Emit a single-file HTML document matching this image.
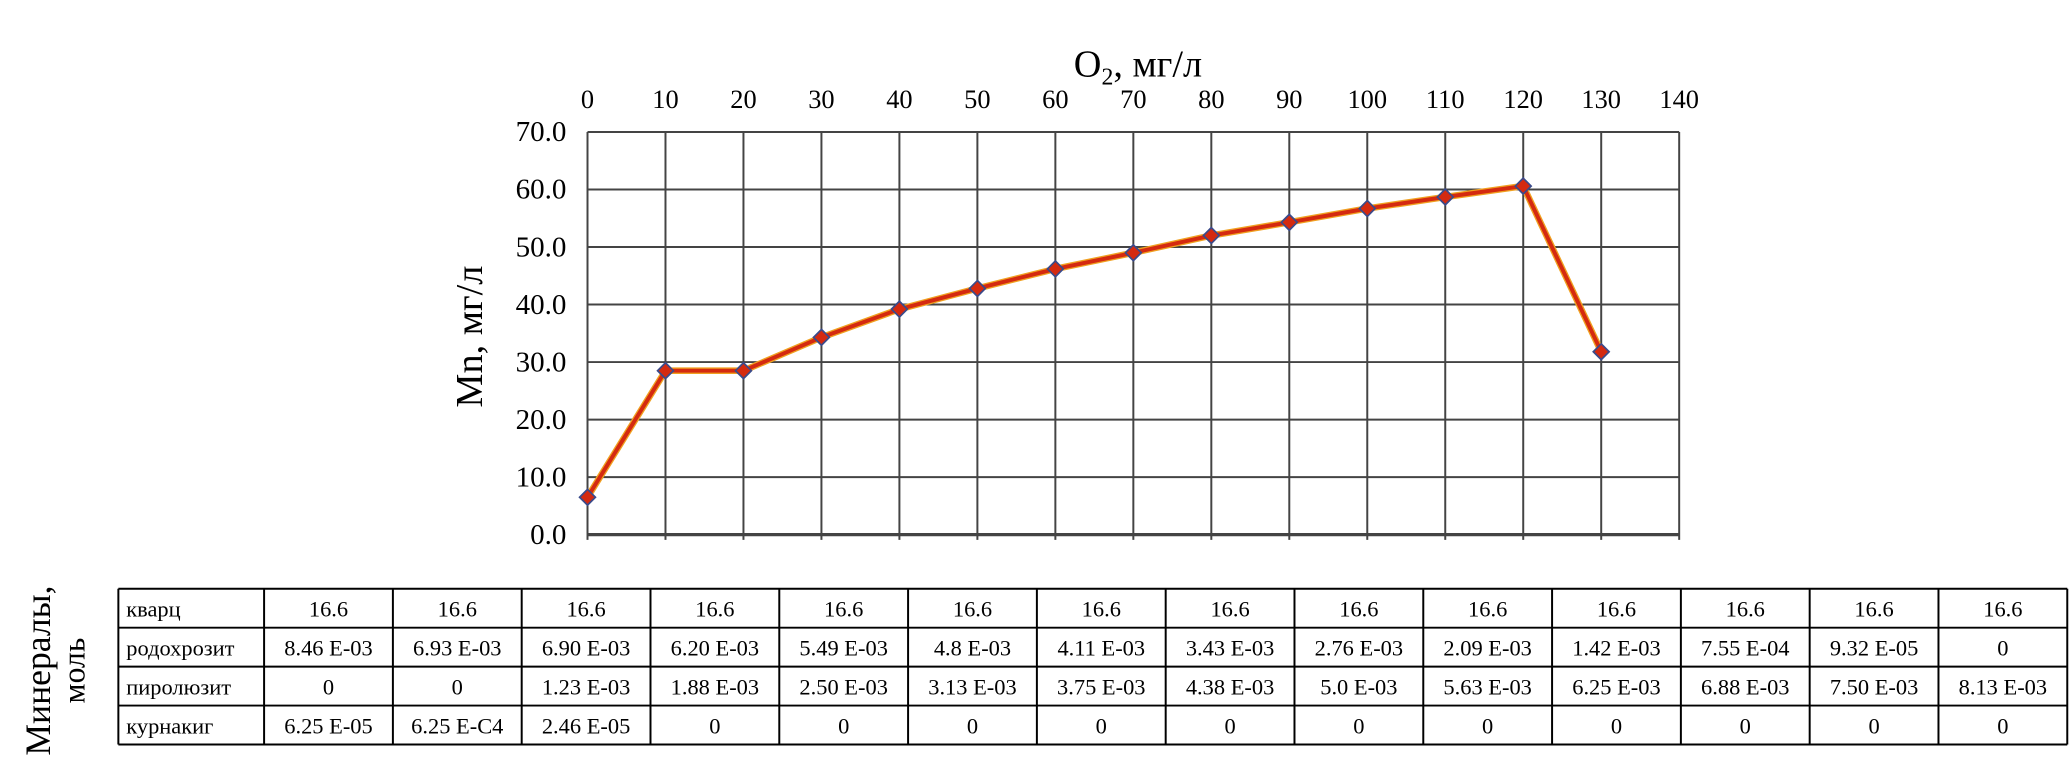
<!DOCTYPE html>
<html><head><meta charset="utf-8"><style>
html,body{margin:0;padding:0;background:#fff;}
svg{display:block;font-family:"Liberation Serif","Noto Serif CJK SC",serif;}
</style></head><body>
<svg width="2070" height="768" viewBox="0 0 1568 581.8">
<g id="grid"></g>
<g id="xt"></g>
<g id="yt"></g>
<text x="862" y="58" font-size="29" text-anchor="middle">O<tspan font-size="18" dy="6">2</tspan><tspan dy="-6">, мг/л</tspan></text>
<text transform="translate(365,255) rotate(-90)" font-size="29" text-anchor="middle">Mn, мг/л</text>
<g id="series"></g>
<text transform="translate(38,508) rotate(-90)" font-size="27" text-anchor="middle">Минералы,</text>
<text transform="translate(64,508) rotate(-90)" font-size="24" text-anchor="middle">моль</text>
<g id="tbl"></g>
</svg>
<script>
const xCats=[0,10,20,30,40,50,60,70,80,90,100,110,120,130];
const mnValues=[6.5,28.5,28.5,34.3,39.2,42.8,46.2,49.0,52.0,54.3,56.7,58.7,60.6,31.8];
const xTicks=[0,10,20,30,40,50,60,70,80,90,100,110,120,130,140];
const yTicks=["0.0","10.0","20.0","30.0","40.0","50.0","60.0","70.0"];
const rowNames=["кварц","родохрозит","пиролюзит","курнакиг"];
const rowKvarc=["16.6","16.6","16.6","16.6","16.6","16.6","16.6","16.6","16.6","16.6","16.6","16.6","16.6","16.6"];
const rowRodo=["8.46 E-03","6.93 E-03","6.90 E-03","6.20 E-03","5.49 E-03","4.8 E-03","4.11 E-03","3.43 E-03","2.76 E-03","2.09 E-03","1.42 E-03","7.55 E-04","9.32 E-05","0"];
const rowPiro=["0","0","1.23 E-03","1.88 E-03","2.50 E-03","3.13 E-03","3.75 E-03","4.38 E-03","5.0 E-03","5.63 E-03","6.25 E-03","6.88 E-03","7.50 E-03","8.13 E-03"];
const rowKurn=["6.25 E-05","6.25 E-C4","2.46 E-05","0","0","0","0","0","0","0","0","0","0","0"];
const NS="http://www.w3.org/2000/svg";
const L=445,R=1272,T=100,B=405;
const sx=v=>L+(v-0)/(140-0)*(R-L);
const sy=v=>B-(v-0)/(70-0)*(B-T);
function mk(tag,attrs,parent,txt){const e=document.createElementNS(NS,tag);for(const k in attrs)e.setAttribute(k,attrs[k]);if(txt!==undefined)e.textContent=txt;parent.appendChild(e);return e;}
const grid=document.getElementById('grid');
xTicks.forEach(v=>{const e=mk('line',{x1:sx(v),x2:sx(v),y1:T,y2:B+4,stroke:'#444','stroke-width':1.5},grid);

});
yTicks.forEach(t=>{const v=parseFloat(t);const e=mk('line',{x1:L,x2:R,y1:sy(v),y2:sy(v),stroke:'#444','stroke-width':v===0?2.4:1.5},grid);

});
const xt=document.getElementById('xt');
xTicks.forEach(v=>{const e=mk('text',{x:sx(v),y:82,'font-size':20,'text-anchor':'middle'},xt,String(v));

});
const yt=document.getElementById('yt');
yTicks.forEach(t=>{const e=mk('text',{x:429,y:sy(parseFloat(t))+7,'font-size':22,'text-anchor':'end'},yt,t);

});
const s=document.getElementById('series');
const pts=xCats.map((c,i)=>sx(c)+','+sy(mnValues[i])).join(' ');
const h=mk('polyline',{points:pts,fill:'none',stroke:'#f0a020','stroke-width':5,'stroke-linejoin':'round'},s);


const ln=mk('polyline',{points:pts,fill:'none',stroke:'#d42a10','stroke-width':3,'stroke-linejoin':'round'},s);


xCats.forEach((c,i)=>{const x=sx(c),y=sy(mnValues[i]),r=6;
const p=mk('polygon',{points:`${x},${y-r} ${x+r},${y} ${x},${y+r} ${x-r},${y}`,fill:'#d42a10',stroke:'#3a4a8a','stroke-width':1.3},s);

});
const tb=document.getElementById('tbl');
const TL=89.6,TR=1566,TT=446,RH=29.5,LC=200;
const rows=[rowKvarc,rowRodo,rowPiro,rowKurn];
const CW=(TR-LC)/14;
for(let r=0;r<=4;r++){const e=mk('line',{x1:TL,x2:TR,y1:TT+r*RH,y2:TT+r*RH,stroke:'#000','stroke-width':1.5},tb);

}
[TL,LC].concat(xCats.map((c,i)=>LC+(i+1)*CW)).forEach(x=>{const e=mk('line',{x1:x,x2:x,y1:TT,y2:TT+4*RH,stroke:'#000','stroke-width':1.5},tb);

});
rows.forEach((row,r)=>{const y=TT+r*RH+21;
const n=mk('text',{x:TL+6,y:y,'font-size':17},tb,rowNames[r]);


row.forEach((v,i)=>{const e=mk('text',{x:LC+(i+0.5)*CW,y:y,'font-size':17,'text-anchor':'middle'},tb,v);

});});
</script>
</body></html>
